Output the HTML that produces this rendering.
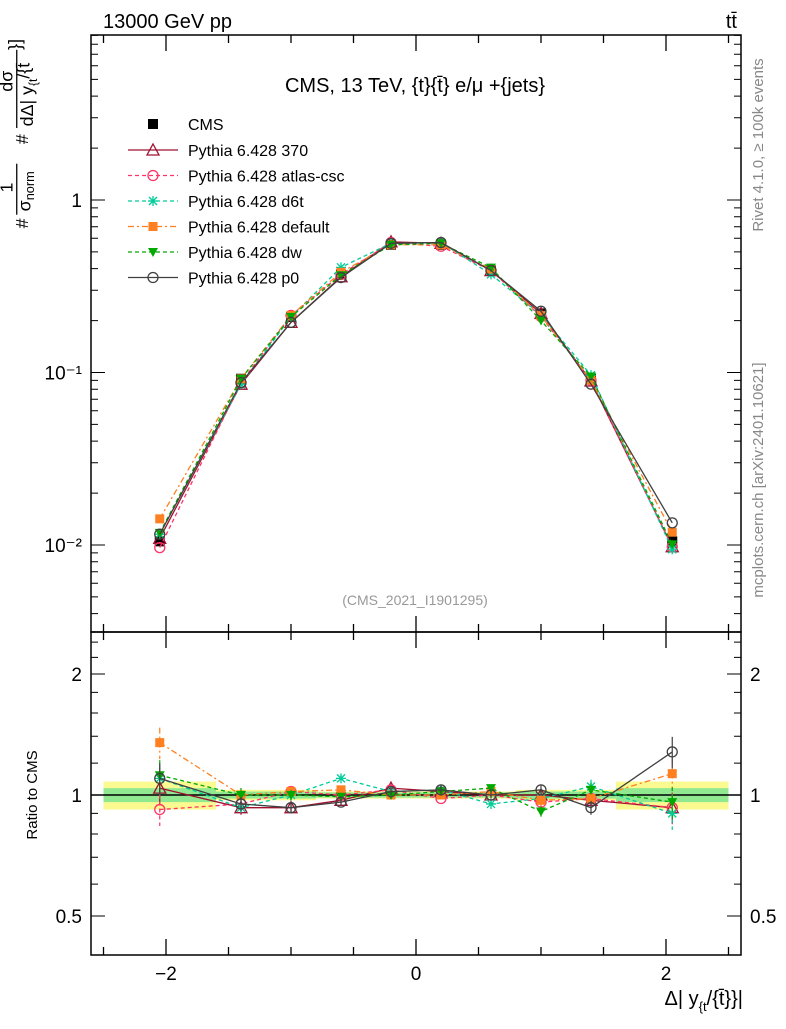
<!DOCTYPE html>
<html><head><meta charset="utf-8"><style>
body{margin:0;background:#fff}
svg text{font-family:"Liberation Sans",sans-serif}
</style></head><body>
<svg id="c" width="786" height="1024" xmlns="http://www.w3.org/2000/svg">
<rect width="786" height="1024" fill="#fff"/>
<g id="bands"></g><g id="marks"></g><g id="axes"></g>
<text x="103" y="28" font-size="20">13000 GeV pp</text>
<text x="737" y="28" font-size="20" text-anchor="end">tt̄</text>
<text x="415" y="92" font-size="20" text-anchor="middle">CMS, 13 TeV, {t}{t̄} e/μ +{jets}</text>
<text x="415" y="605" font-size="14" fill="#999" text-anchor="middle">(CMS_2021_I1901295)</text>
<text transform="translate(763,145) rotate(-90)" font-size="15" fill="#888" text-anchor="middle">Rivet 4.1.0, ≥ 100k events</text>
<text transform="translate(763,480) rotate(-90)" font-size="15" fill="#888" text-anchor="middle">mcplots.cern.ch [arXiv:2401.10621]</text>
<g transform="translate(4,230) rotate(-90) scale(0.85)" font-size="21">
 <text x="2" y="28">#</text>
 <text x="50" y="10" text-anchor="middle">1</text>
 <line x1="18" x2="78" y1="15" y2="15" stroke="#000" stroke-width="1.5"/>
 <text x="22" y="31">σ<tspan font-size="15" dy="4">norm</tspan></text>
 <text x="101" y="28">#</text>
 <text x="175" y="10" text-anchor="middle">dσ</text>
 <line x1="120" x2="212" y1="15" y2="15" stroke="#000" stroke-width="1.5"/>
 <text x="122" y="34">dΔ| y<tspan font-size="14" dy="5">{t</tspan><tspan dy="-9">/{t̄</tspan></text>
 <text x="212" y="20">}]</text>
</g>
<text transform="translate(37,795) rotate(-90)" font-size="15" text-anchor="middle">Ratio to CMS</text>
<text x="743" y="1005" font-size="20" text-anchor="end">Δ| y<tspan font-size="13" dy="6">{t</tspan><tspan dy="-6">/{t̄}}|</tspan></text>
<g id="legend"></g>
</svg>
<script>
const xc=[-2.05,-1.4,-1.0,-0.6,-0.2,0.2,0.6,1.0,1.4,2.05];
const edges=[-2.5,-1.6,-1.2,-0.8,-0.4,0,0.4,0.8,1.2,1.6,2.5];
const cms=[0.0105,0.092,0.21,0.37,0.55,0.55,0.39,0.22,0.092,0.0105];
const bandIn=[0.04,0.02,0.02,0.015,0.015,0.015,0.015,0.02,0.02,0.04];
const bandOut=[0.08,0.03,0.03,0.02,0.02,0.02,0.02,0.03,0.03,0.08];
const r370=[1.04,0.93,0.93,0.97,1.04,1.02,1.0,1.0,0.97,0.93];
const rAtlas=[0.92,0.95,1.02,1.0,1.03,0.98,1.0,0.96,0.98,0.93];
const rD6t=[1.1,0.93,1.0,1.1,1.02,1.03,0.95,0.98,1.05,0.9];
const rDef=[1.35,1.0,1.02,1.03,1.0,1.0,1.02,0.97,0.98,1.13];
const rDw=[1.12,1.0,1.0,0.99,1.0,1.02,1.04,0.91,1.03,0.96];
const rP0=[1.1,0.95,0.93,0.96,1.02,1.03,1.0,1.03,0.93,1.28];
const errRel=[0.09,0.04,0.03,0.02,0.02,0.02,0.02,0.03,0.04,0.09];
const yTicks=[0.01,0.1,1], yTickLbl=["10⁻²","10⁻¹","1"];
const xTicks=[-2,0,2], xTickLbl=["−2","0","2"];
const rTicks=[0.5,1,2], rTickLbl=["0.5","1","2"];

const NS="http://www.w3.org/2000/svg";
const X=v=>416+v*125;
const Y=v=>200-Math.log10(v)*172.5;
const R=v=>795-Math.log2(v)*121;
function el(p,t,a){const e=document.createElementNS(NS,t);for(const k in a)e.setAttribute(k,a[k]);document.getElementById(p).appendChild(e);return e;}

for(let i=0;i<10;i++){
 let b=el('bands','rect',{x:X(edges[i]),width:X(edges[i+1])-X(edges[i]),y:R(1+bandOut[i]),height:R(1-bandOut[i])-R(1+bandOut[i]),fill:'#fafa90'});
 
 
 let g=el('bands','rect',{x:X(edges[i]),width:X(edges[i+1])-X(edges[i]),y:R(1+bandIn[i]),height:R(1-bandIn[i])-R(1+bandIn[i]),fill:'#90e890'});
 
 
}
let l1=el('bands','line',{x1:91,x2:741,y1:R(1),y2:R(1),stroke:'#000','stroke-width':1.5});



const series=[
 {n:'Pythia 6.428 370',r:r370,c:'#a01030',d:'',m:'tri'},
 {n:'Pythia 6.428 atlas-csc',r:rAtlas,c:'#ff3366',d:'4,3',m:'circ'},
 {n:'Pythia 6.428 d6t',r:rD6t,c:'#00cc99',d:'4,3',m:'star'},
 {n:'Pythia 6.428 default',r:rDef,c:'#ff8020',d:'6,3,2,3',m:'sq'},
 {n:'Pythia 6.428 dw',r:rDw,c:'#00aa00',d:'4,3',m:'tridown'},
 {n:'Pythia 6.428 p0',r:rP0,c:'#404040',d:'',m:'circ'}
];
function marker(p,type,x,y,c,name){
 let e;
 if(type==='tri')e=el(p,'path',{d:`M${x},${y-6}L${x+6},${y+5}L${x-6},${y+5}Z`,fill:'none',stroke:c,'stroke-width':1.3});
 else if(type==='tridown')e=el(p,'path',{d:`M${x-5},${y-4}L${x+5},${y-4}L${x},${y+5}Z`,fill:c});
 else if(type==='circ')e=el(p,'circle',{cx:x,cy:y,r:5,fill:'none',stroke:c,'stroke-width':1.3});
 else if(type==='sq')e=el(p,'rect',{x:x-4.5,y:y-4.5,width:9,height:9,fill:c});
 else if(type==='bsq')e=el(p,'rect',{x:x-5,y:y-5,width:10,height:10,fill:c});
 else e=el(p,'path',{d:`M${x-5},${y}H${x+5}M${x},${y-5}V${y+5}M${x-4},${y-4}L${x+4},${y+4}M${x-4},${y+4}L${x+4},${y-4}`,stroke:c,'stroke-width':1.3});
 
 
}
cms.forEach((v,i)=>marker('marks','bsq',X(xc[i]),Y(v),'#000','cms-point'));
series.forEach((s,si)=>{
 const main=s.r.map((r,i)=>[X(xc[i]),Y(cms[i]*r)]);
 const rat=s.r.map((r,i)=>[X(xc[i]),R(r)]);
 s.r.forEach((r,i)=>{
  let eb=el('marks','line',{x1:X(xc[i]),x2:X(xc[i]),y1:R(r*(1+errRel[i])),y2:R(r*(1-errRel[i])),stroke:s.c,'stroke-width':1.2,'stroke-dasharray':s.d});
  
  
 });
 [main,rat].forEach((pts,k)=>{
  let pl=el('marks','polyline',{points:pts.map(p=>p.join(',')).join(' '),fill:'none',stroke:s.c,'stroke-width':1.3,'stroke-dasharray':s.d});
  
  
  pts.forEach(p=>marker('marks',s.m,p[0],p[1],s.c,k?'ratio-point':'series-point'));
 });
 const ly=150+si*25.5;
 let ll=el('legend','line',{x1:128,x2:178,y1:ly,y2:ly,stroke:s.c,'stroke-width':1.3,'stroke-dasharray':s.d});
 
 
 marker('legend',s.m,153,ly,s.c,'legend-marker');
 let t=el('legend','text',{x:188,y:ly+6,'font-size':16});t.textContent=s.n;
 
 
});
marker('legend','bsq',153,124,'#000','legend-marker');
let tc=el('legend','text',{x:188,y:130,'font-size':16});tc.textContent='CMS';



[[35,632],[632,955]].forEach(([a,b])=>{
 let f=el('axes','rect',{x:91,y:a,width:650,height:b-a,fill:'none',stroke:'#000','stroke-width':1.5});
 
 
});
for(let d=-3;d<=0;d++)for(let m=1;m<10;m++){const v=m*Math.pow(10,d);const y=Y(v);if(y<35||y>632)continue;const L=m===1?14:7;
 el('axes','path',{d:`M91,${y}h${L}M741,${y}h${-L}`,stroke:'#000'});}
yTicks.forEach((v,i)=>{let t=el('axes','text',{x:82,y:Y(v)+7,'font-size':19,'text-anchor':'end'});t.textContent=yTickLbl[i];
 });
[0.5,0.6,0.7,0.8,0.9,1,1.2,1.4,1.6,1.8,2,2.2,2.4].forEach(v=>{const y=R(v);const L=rTicks.includes(v)?14:7;
 el('axes','path',{d:`M91,${y}h${L}M741,${y}h${-L}`,stroke:'#000'});});
rTicks.forEach((v,i)=>{[[82,'end'],[750,'start']].forEach(([x,a])=>{let t=el('axes','text',{x:x,y:R(v)+7,'font-size':19,'text-anchor':a});t.textContent=rTickLbl[i];
 });});
for(let k=-5;k<=5;k++){const v=k*0.5;const x=X(v);if(x<91||x>741)continue;const maj=(k%4===0);const L=maj?16:8;
 el('axes','path',{d:`M${x},35v${L}M${x},632v${-L}M${x},632v${L}M${x},955v${-L}`,stroke:'#000','stroke-width':1.3});}
xTicks.forEach((v,i)=>{let t=el('axes','text',{x:X(v),y:980,'font-size':19,'text-anchor':'middle'});t.textContent=xTickLbl[i];
 });
</script>
</body></html>
